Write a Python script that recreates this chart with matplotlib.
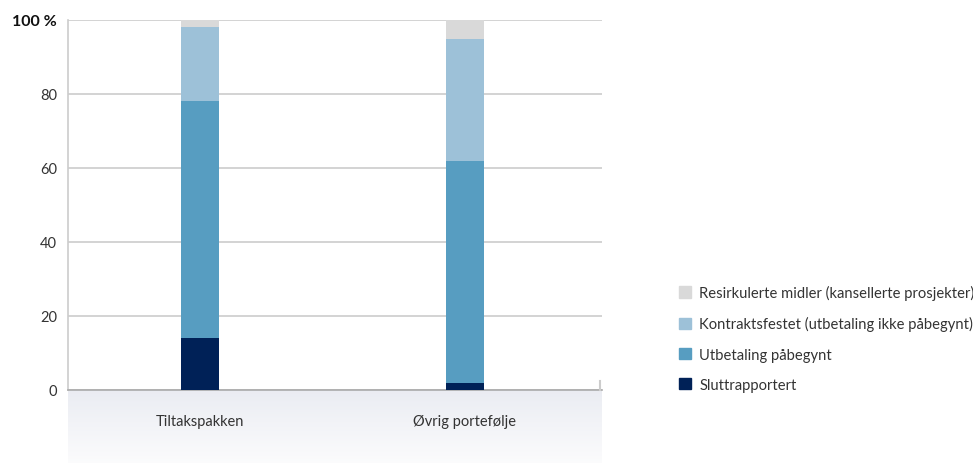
import numpy as np
import matplotlib.pyplot as plt
from matplotlib.colors import LinearSegmentedColormap
from matplotlib.patches import Patch

plt.rcParams['font.family'] = ['Lato', 'DejaVu Sans']

categories = ["Tiltakspakken", "Øvrig portefølje"]
series_names = ["Sluttrapportert", "Utbetaling påbegynt",
                "Kontraktsfestet (utbetaling ikke påbegynt)",
                "Resirkulerte midler (kansellerte prosjekter)"]
sluttrapportert = [14, 2]
utbetaling = [64, 60]
kontraktsfestet = [20, 33]
resirkulerte = [2, 5]
colors = ["#002157", "#579dc1", "#9dc1d8", "#d9d9d9"]
yticks = [0, 20, 40, 60, 80, 100]
ytick_labels = ["0", "20", "40", "60", "80", "100 %"]

fig = plt.figure(figsize=(9.73, 4.64), dpi=100)
ax_l, ax_w = 68 / 973, (602 - 68) / 973
ax_b = (464 - 391) / 464
ax_h = (391 - 21) / 464

# gradient band under the axis: light at the bottom, darker at the top
band = fig.add_axes([ax_l, 0, ax_w, ax_b])
yy = np.linspace(0, 1, 60)
cmap = LinearSegmentedColormap.from_list("g", ["#fbfbfc", "#eaecf2"])
band.pcolormesh([0, 1], yy, yy[:-1].reshape(-1, 1), cmap=cmap, shading='flat')
band.set_xlim(0, 1)
band.set_ylim(0, 1)
band.set_axis_off()

ax = fig.add_axes([ax_l, ax_b, ax_w, ax_h])
x = np.arange(len(categories))
bottom = np.zeros(len(categories))
for vals, c in zip([sluttrapportert, utbetaling, kontraktsfestet, resirkulerte], colors):
    ax.bar(x, vals, width=0.143, bottom=bottom, color=c, zorder=3)
    bottom += np.array(vals)

ax.set_xlim(-0.498, 1.517)
ax.set_ylim(0, 100)
ax.set_yticks(yticks)
ax.set_yticklabels(ytick_labels, fontsize=10.5, color="#333333")
top_lbl = ax.get_yticklabels()[-1]
top_lbl.set_fontweight("bold")
top_lbl.set_fontsize(11.5)
top_lbl.set_color("#111111")
ax.tick_params(axis='y', length=0, pad=8)
ax.set_xticks(x)
ax.set_xticklabels(categories, fontsize=10.5, color="#333333")
ax.tick_params(axis='x', length=0, pad=17)
ax.grid(axis='y', color="#cccccc", linewidth=1.2, zorder=0)
for s in ["top", "right"]:
    ax.spines[s].set_visible(False)
ax.spines["left"].set_color("#cccccc")
ax.spines["left"].set_linewidth(1.2)
ax.spines["bottom"].set_color("#aaaaaa")
ax.spines["bottom"].set_linewidth(1.2)
ax.set_facecolor("none")
# small end tick at right of the baseline
ax.plot([0.996, 0.996], [0, 0.024], transform=ax.transAxes, color="#cccccc",
        linewidth=1.5, clip_on=False, zorder=4)

handles = [Patch(color=c) for c in colors][::-1]
fig.legend(handles, series_names[::-1], loc="upper left", bbox_to_anchor=(0.684, 0.412),
           frameon=False, fontsize=10.6, handlelength=0.8, handleheight=0.8,
           handletextpad=0.6, labelspacing=1.1, labelcolor="#333333")

fig.savefig("out.png", dpi=100)
